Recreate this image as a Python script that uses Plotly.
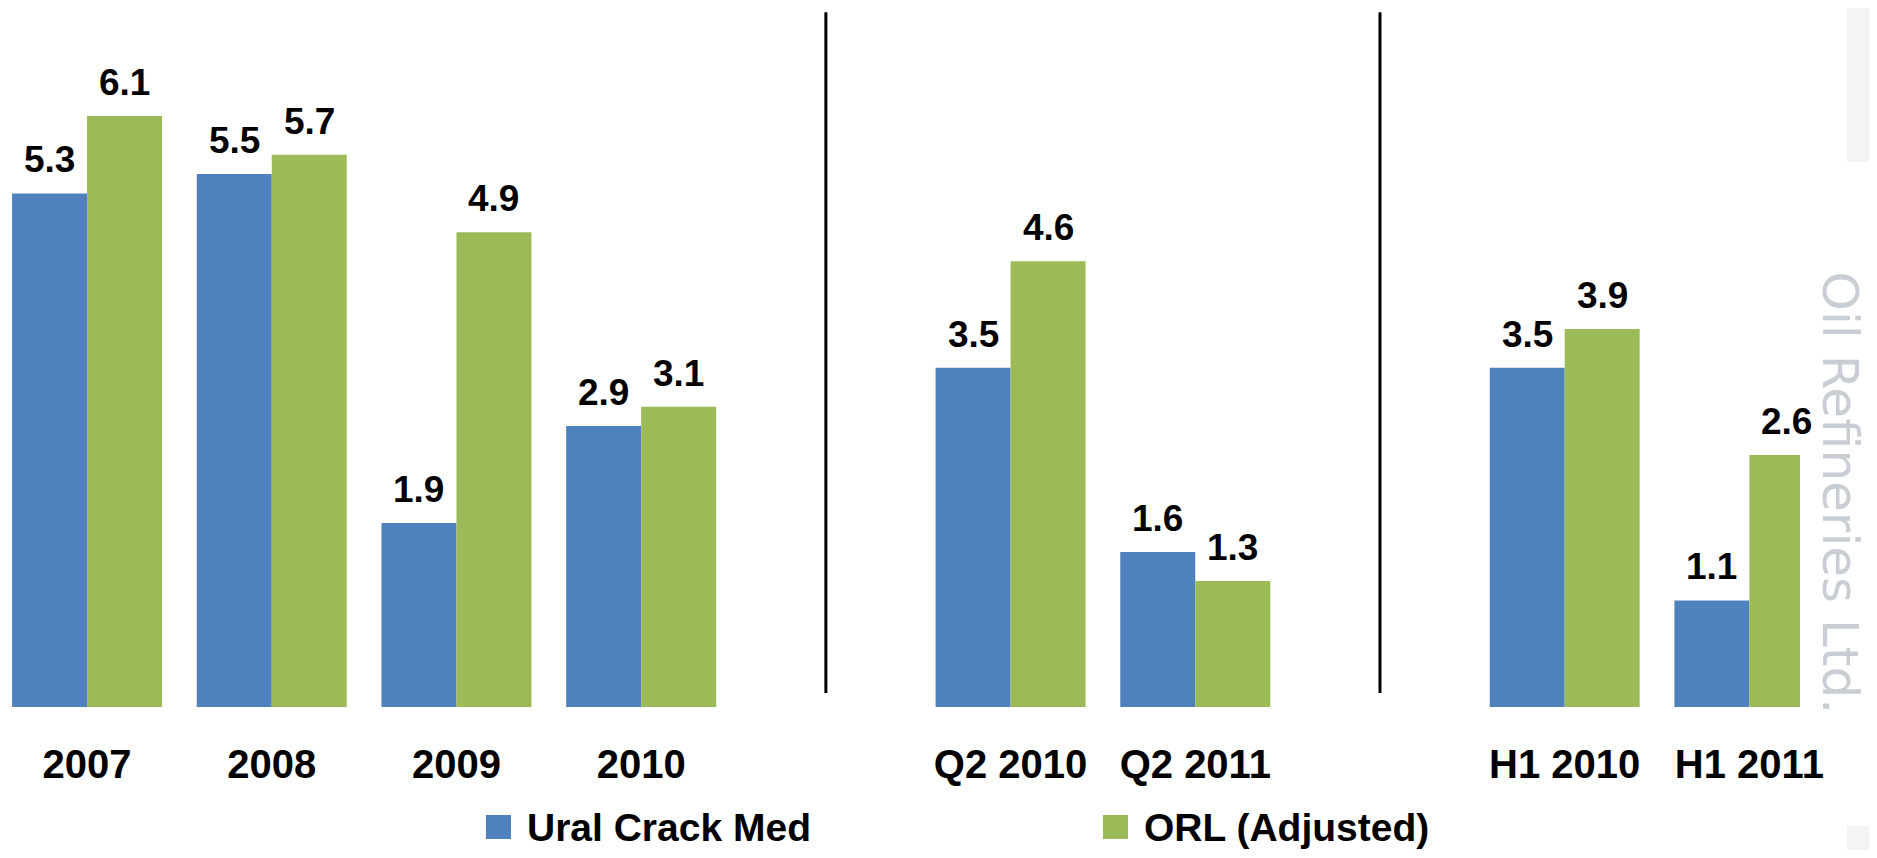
import plotly.graph_objects as go

# categories (blank entries are the empty slots between the three blocks)
categories = ["2007", "2008", "2009", "2010", " ", "Q2 2010", "Q2 2011", "  ", "H1 2010", "H1 2011"]
periods = ["2007", "2008", "2009", "2010", "Q2 2010", "Q2 2011", "H1 2010", "H1 2011"]
ural = [5.3, 5.5, 1.9, 2.9, 3.5, 1.6, 3.5, 1.1]
orl = [6.1, 5.7, 4.9, 3.1, 4.6, 1.3, 3.9, 2.6]
series_names = ["Ural Crack Med", "ORL (Adjusted)"]

BLUE = "#4F81BD"
GREEN = "#9BBB59"
FONT = "Liberation Sans, Arial, sans-serif"

fig = go.Figure()
fig.add_trace(go.Bar(x=periods, y=ural, name=series_names[0], marker_color=BLUE, marker_line_width=0))
fig.add_trace(go.Bar(x=periods, y=orl, name=series_names[1], marker_color=GREEN, marker_line_width=0))

# value labels above the bars
bar_gap = 0.188
half = (1 - bar_gap) / 4
annots = []
for vals, off in [(ural, -half), (orl, half)]:
    for p, v in zip(periods, vals):
        annots.append(dict(x=categories.index(p) + off, y=v, xref="x", yref="y",
                           text=f"{v:.1f}", showarrow=False, yanchor="bottom", yshift=11,
                           font=dict(family=FONT, size=37, color="black", weight="bold")))

# manual legend (big square keys)
legend_items = [(series_names[0], BLUE, 0.2667), (series_names[1], GREEN, 0.6110)]
shapes = []
for name, col, x0 in legend_items:
    shapes.append(dict(type="rect", xref="paper", yref="paper", x0=x0, x1=x0 + 0.014,
                       y0=-0.1888, y1=-0.1545, fillcolor=col, line_width=0))
    annots.append(dict(x=x0 + 0.0218, y=-0.1717, xref="paper", yref="paper", text=name,
                       showarrow=False, xanchor="left", yanchor="middle",
                       font=dict(family=FONT, size=39, color="black", weight="bold")))

# separators between the blocks
for sep in [" ", "  "]:
    i = categories.index(sep)
    shapes.append(dict(type="line", xref="x", yref="paper", x0=i, x1=i, y0=0.02, y1=0.994,
                       line=dict(color="black", width=3)))

# faint grey strips on the right edge
shapes.append(dict(type="rect", xref="paper", yref="paper", x0=1.026, x1=1.05, y0=0.78, y1=1.02,
                   fillcolor="rgba(205,210,220,0.25)", line_width=0, layer="below"))
shapes.append(dict(type="rect", xref="paper", yref="paper", x0=1.026, x1=1.05, y0=-0.22, y1=-0.17,
                   fillcolor="rgba(205,210,220,0.25)", line_width=0, layer="below"))

# watermark
annots.append(dict(x=1.0222, y=0.307, xref="paper", yref="paper", text="Oil Refineries Ltd.",
                   showarrow=False, textangle=90, xanchor="center", yanchor="middle",
                   font=dict(family="DejaVu Sans, sans-serif", size=50, color="#c9cdd4")))

fig.update_layout(
    barmode="group", bargap=bar_gap, bargroupgap=0,
    showlegend=False,
    plot_bgcolor="white", paper_bgcolor="white",
    margin=dict(l=0, r=69, t=0, b=143),
    annotations=annots, shapes=shapes,
)
fig.update_xaxes(type="category", categoryorder="array", categoryarray=categories,
                 range=[-0.428, 9.274], showgrid=False, showline=False, zeroline=False,
                 ticks="", ticklabelstandoff=30,
                 tickfont=dict(family=FONT, size=40, color="black", weight="bold"))
fig.update_yaxes(range=[0, 7.214], visible=False, showgrid=False, zeroline=False)

fig.write_html("out.html")
